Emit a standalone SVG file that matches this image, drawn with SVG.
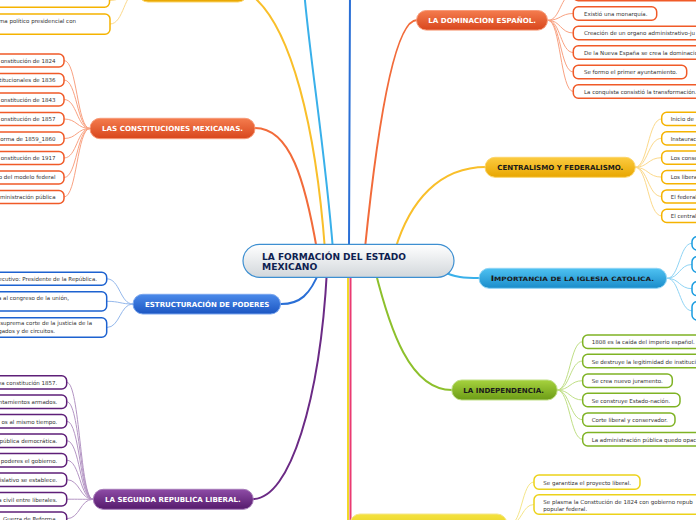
<svg xmlns="http://www.w3.org/2000/svg" width="696" height="520" viewBox="0 0 696 520">
<defs>
<linearGradient id="gRoot" x1="0" y1="0" x2="0" y2="1"><stop offset="0" stop-color="#ffffff"/><stop offset="1" stop-color="#d2d7db"/></linearGradient>
<linearGradient id="gOr" x1="0" y1="0" x2="0" y2="1"><stop offset="0" stop-color="#f47c4e"/><stop offset="1" stop-color="#d8461c"/></linearGradient>
<linearGradient id="gYe" x1="0" y1="0" x2="0" y2="1"><stop offset="0" stop-color="#fccb40"/><stop offset="1" stop-color="#e8a600"/></linearGradient>
<linearGradient id="gLb" x1="0" y1="0" x2="0" y2="1"><stop offset="0" stop-color="#4fc2f2"/><stop offset="1" stop-color="#1a8cca"/></linearGradient>
<linearGradient id="gBl" x1="0" y1="0" x2="0" y2="1"><stop offset="0" stop-color="#4b8aea"/><stop offset="1" stop-color="#1c56c2"/></linearGradient>
<linearGradient id="gGr" x1="0" y1="0" x2="0" y2="1"><stop offset="0" stop-color="#a6d23e"/><stop offset="1" stop-color="#6c9c16"/></linearGradient>
<linearGradient id="gPu" x1="0" y1="0" x2="0" y2="1"><stop offset="0" stop-color="#8e4ca6"/><stop offset="1" stop-color="#551a6c"/></linearGradient>
<linearGradient id="gYb" x1="0" y1="0" x2="0" y2="1"><stop offset="0" stop-color="#f4e240"/><stop offset="1" stop-color="#e0c812"/></linearGradient>
</defs>
<style>
.main{fill:none;stroke-width:2;stroke-linecap:round}
.sub{fill:none;stroke-width:1}
.box{fill:#ffffff;stroke-width:1.5}
.ct{font-family:"DejaVu Sans",Verdana,sans-serif;font-size:5.5px;fill:#333333}
.pt{font-family:"DejaVu Sans",Verdana,sans-serif;font-size:7px;font-weight:bold}
.w{fill:#ffffff}
.k{fill:#1a1a1a}
.or{stroke:#f05a28}
.ye{stroke:#f5b300}
.lb{stroke:#1a9ce0}
.bl{stroke:#1d62d0}
.gr{stroke:#7fb324}
.pu{stroke:#5e1f78}
.yb{stroke:#ecd21a}
.sor{stroke:#f9a282}
.sye{stroke:#fcd98a}
.slb{stroke:#8fd4f5}
.sbl{stroke:#94b8ec}
.sgr{stroke:#c0df86}
.spu{stroke:#b495c4}
.syb{stroke:#f5e68a}
</style>
<g id="connectors">
<path class="main" stroke="#f9bf2a" d="M325 250 C316 130 292 25 250 -6"/>
<path class="main" stroke="#39b0ea" d="M333 250 C325 150 310 60 304 -10"/>
<path class="main" stroke="#2a6fd6" d="M349 250 L350 -10"/>
<path class="main" stroke="#f26b3a" d="M365 248 C378 120 395 20 417 20"/>
<path class="main" stroke="#f9bf2a" d="M395 250 C410 200 440 167 486 167"/>
<path class="main" stroke="#39b0ea" d="M440 270 C455 278 465 278 480 278"/>
<path class="main" stroke="#8dc02c" d="M375 270 C390 330 410 390 452 390"/>
<path class="main" stroke="#f0d82a" d="M348 270 L348 530"/>
<path class="main" stroke="#ea3a72" d="M350.5 270 L350.5 530"/>
<path class="main" stroke="#6b2a85" d="M327 270 C320 400 290 499 253 499"/>
<path class="main" stroke="#2a6fd6" d="M320 270 C310 295 300 304 281 304"/>
<path class="main" stroke="#f26b3a" d="M317 250 C305 180 290 128 255 128"/>
<g class="sub sye">
<path d="M138 -9 C124 -9 124 0.5 110 0.5"/>
<path d="M138 -9 C124 -9 124 24 110 24"/>
</g>
<g class="sub sor">
<path d="M90 128.5 C77 128.5 77 60.5 64 60.5"/>
<path d="M90 128.5 C77 128.5 77 80 64 80"/>
<path d="M90 128.5 C77 128.5 77 99.5 64 99.5"/>
<path d="M90 128.5 C77 128.5 77 119 64 119"/>
<path d="M90 128.5 C77 128.5 77 138.5 64 138.5"/>
<path d="M90 128.5 C77 128.5 77 158 64 158"/>
<path d="M90 128.5 C77 128.5 77 177.5 64 177.5"/>
<path d="M90 128.5 C77 128.5 77 197 64 197"/>
</g>
<g class="sub sbl">
<path d="M133 304 C120 304 120 278.8 106.7 278.8"/>
<path d="M133 304 C120 304 120 301.3 106.7 301.3"/>
<path d="M133 304 C120 304 120 327.5 106.7 327.5"/>
</g>
<g class="sub spu">
<path d="M93 499.3 C80 499.3 80 382.3 66.7 382.3"/>
<path d="M93 499.3 C80 499.3 80 401.7 66.7 401.7"/>
<path d="M93 499.3 C80 499.3 80 421.2 66.7 421.2"/>
<path d="M93 499.3 C80 499.3 80 440.7 66.7 440.7"/>
<path d="M93 499.3 C80 499.3 80 460.2 66.7 460.2"/>
<path d="M93 499.3 C80 499.3 80 479.7 66.7 479.7"/>
<path d="M93 499.3 C80 499.3 80 499.2 66.7 499.2"/>
<path d="M93 499.3 C80 499.3 80 518.7 66.7 518.7"/>
</g>
<g class="sub sor">
<path d="M548 20.3 C560.5 20.3 560.5 -6 573.3 -6"/>
<path d="M548 20.3 C560.5 20.3 560.5 13.5 573.3 13.5"/>
<path d="M548 20.3 C560.5 20.3 560.5 33 573.3 33"/>
<path d="M548 20.3 C560.5 20.3 560.5 52.5 573.3 52.5"/>
<path d="M548 20.3 C560.5 20.3 560.5 72 573.3 72"/>
<path d="M548 20.3 C560.5 20.3 560.5 91.5 573.3 91.5"/>
</g>
<g class="sub sye">
<path d="M635 167.3 C648 167.3 648 118.9 661.7 118.9"/>
<path d="M635 167.3 C648 167.3 648 138.3 661.7 138.3"/>
<path d="M635 167.3 C648 167.3 648 157.7 661.7 157.7"/>
<path d="M635 167.3 C648 167.3 648 177.1 661.7 177.1"/>
<path d="M635 167.3 C648 167.3 648 196.5 661.7 196.5"/>
<path d="M635 167.3 C648 167.3 648 215.9 661.7 215.9"/>
</g>
<g class="sub slb">
<path d="M667 278.3 C679.5 278.3 679.5 243.3 692 243.3"/>
<path d="M667 278.3 C679.5 278.3 679.5 264.5 692 264.5"/>
<path d="M667 278.3 C679.5 278.3 679.5 288.7 692 288.7"/>
<path d="M667 278.3 C679.5 278.3 679.5 310.8 692 310.8"/>
</g>
<g class="sub sgr">
<path d="M557 390 C570 390 570 341.7 582.7 341.7"/>
<path d="M557 390 C570 390 570 361 582.7 361"/>
<path d="M557 390 C570 390 570 380.7 582.7 380.7"/>
<path d="M557 390 C570 390 570 400 582.7 400"/>
<path d="M557 390 C570 390 570 419.7 582.7 419.7"/>
<path d="M557 390 C570 390 570 439.3 582.7 439.3"/>
</g>
<g class="sub syb">
<path d="M510 524 C522 524 522 482 534 482"/>
<path d="M510 524 C522 524 522 504.5 534 504.5"/>
</g>
</g>

<g id="root">
<rect x="243" y="244.3" width="211" height="33" rx="16.5" fill="url(#gRoot)" stroke="#3d8fd1" stroke-width="1.2"/>
<text x="262" y="260" font-family="'DejaVu Sans',Verdana,sans-serif" font-size="9.2" font-weight="bold" fill="#0e2150" textLength="144" lengthAdjust="spacingAndGlyphs">LA FORMACIÓN DEL ESTADO</text>
<text x="262" y="270" font-family="'DejaVu Sans',Verdana,sans-serif" font-size="9.2" font-weight="bold" fill="#0e2150">MEXICANO</text>
</g>

<g id="n-topleft">
<rect x="138" y="-19" width="110" height="21" rx="10" fill="url(#gYe)" stroke="#fcd56a" stroke-width="1"/>
</g>
<g id="n-topleft-1"><rect class="box ye" x="-60" y="-6" width="169.5" height="13.3" rx="5"/></g>
<g id="n-topleft-2"><rect class="box ye" x="-60" y="14" width="170" height="20.3" rx="5"/><text class="ct" x="76" y="23.3" text-anchor="end">ma político presidencial con</text></g>

<g id="n-constituciones">
<rect x="90" y="118.3" width="165" height="20.4" rx="10" fill="url(#gOr)" stroke="#f79a78" stroke-width="1"/>
<text class="pt w" x="102" y="131.3" textLength="141" lengthAdjust="spacingAndGlyphs">LAS CONSTITUCIONES MEXICANAS.</text>
</g>
<g id="c-const-1"><rect class="box or" x="-40" y="54" width="104" height="13" rx="5"/><text class="ct" x="55.5" y="62.7" text-anchor="end">onstitución de 1824</text></g>
<g id="c-const-2"><rect class="box or" x="-40" y="73.5" width="104" height="13" rx="5"/><text class="ct" x="55.5" y="82" text-anchor="end">titucionales de 1836</text></g>
<g id="c-const-3"><rect class="box or" x="-40" y="93" width="104" height="13" rx="5"/><text class="ct" x="55.5" y="102" text-anchor="end">onstitución de 1843</text></g>
<g id="c-const-4"><rect class="box or" x="-40" y="112.5" width="104" height="13" rx="5"/><text class="ct" x="55.5" y="121.3" text-anchor="end">onstitución de 1857</text></g>
<g id="c-const-5"><rect class="box or" x="-40" y="132" width="104" height="13" rx="5"/><text class="ct" x="55.5" y="140.7" text-anchor="end">orma de 1859_1860</text></g>
<g id="c-const-6"><rect class="box or" x="-40" y="151.5" width="104" height="13" rx="5"/><text class="ct" x="55.5" y="159.7" text-anchor="end">onstitución de 1917</text></g>
<g id="c-const-7"><rect class="box or" x="-40" y="171" width="104" height="13" rx="5"/><text class="ct" x="55.5" y="179.3" text-anchor="end">o del modelo federal</text></g>
<g id="c-const-8"><rect class="box or" x="-40" y="190.5" width="104" height="13" rx="5"/><text class="ct" x="55.5" y="198.7" text-anchor="end">ministración pública</text></g>

<g id="n-estructuracion">
<rect x="133" y="294.3" width="147.5" height="19.7" rx="9.8" fill="url(#gBl)" stroke="#7aa6ee" stroke-width="1"/>
<text class="pt w" x="145" y="307" textLength="124.3" lengthAdjust="spacingAndGlyphs">ESTRUCTURACIÓN DE PODERES</text>
</g>
<g id="c-estr-1"><rect class="box bl" x="-40" y="272.3" width="146.7" height="13" rx="5"/><text class="ct" x="97" y="281" text-anchor="end">ecutivo: Presidente de la República.</text></g>
<g id="c-estr-2"><rect class="box bl" x="-40" y="291.7" width="146.7" height="19.3" rx="5"/><text class="ct" x="69" y="300.3" text-anchor="end">a al congreso de la unión,</text></g>
<g id="c-estr-3"><rect class="box bl" x="-40" y="317.7" width="146.7" height="19.6" rx="5"/><text class="ct" x="92" y="325.3" text-anchor="end">suprema corte de la justicia de la</text><text class="ct" x="55" y="333" text-anchor="end">gados y de circuitos.</text></g>

<g id="n-segunda">
<rect x="93.3" y="489.3" width="160" height="20" rx="10" fill="url(#gPu)" stroke="#a67ab8" stroke-width="1"/>
<text class="pt w" x="105" y="501.9" textLength="135.7" lengthAdjust="spacingAndGlyphs">LA SEGUNDA REPUBLICA LIBERAL.</text>
</g>
<g id="c-seg-1"><rect class="box pu" x="-40" y="375.7" width="106.7" height="13.3" rx="5"/><text class="ct" x="57.3" y="385.3" text-anchor="end">va constitución 1857.</text></g>
<g id="c-seg-2"><rect class="box pu" x="-40" y="395.1" width="106.7" height="13.3" rx="5"/><text class="ct" x="57.3" y="404.3" text-anchor="end">ntamientos armados.</text></g>
<g id="c-seg-3"><rect class="box pu" x="-40" y="414.6" width="106.7" height="13.3" rx="5"/><text class="ct" x="57.3" y="424" text-anchor="end">os al mismo tiempo.</text></g>
<g id="c-seg-4"><rect class="box pu" x="-40" y="434.1" width="106.7" height="13.3" rx="5"/><text class="ct" x="57.3" y="443" text-anchor="end">pública democrática.</text></g>
<g id="c-seg-5"><rect class="box pu" x="-40" y="453.6" width="106.7" height="13.3" rx="5"/><text class="ct" x="57.3" y="462.7" text-anchor="end">poderes el gobierno.</text></g>
<g id="c-seg-6"><rect class="box pu" x="-40" y="473.1" width="106.7" height="13.3" rx="5"/><text class="ct" x="57.3" y="482" text-anchor="end">islativo se establece.</text></g>
<g id="c-seg-7"><rect class="box pu" x="-40" y="492.6" width="106.7" height="13.3" rx="5"/><text class="ct" x="57.3" y="502" text-anchor="end">a civil entre liberales.</text></g>
<g id="c-seg-8"><rect class="box pu" x="-40" y="512.1" width="106.7" height="13.3" rx="5"/><text class="ct" x="57.3" y="521" text-anchor="end">Guerra de Reforma.</text></g>

<g id="n-dominacion">
<rect x="416.5" y="10.5" width="131" height="19.6" rx="9.8" fill="url(#gOr)" stroke="#f79a78" stroke-width="1"/>
<text class="pt w" x="428.3" y="23.2" textLength="107.7" lengthAdjust="spacingAndGlyphs">LA DOMINACION ESPAÑOL.</text>
</g>
<g id="c-dom-0"><rect class="box or" x="573.3" y="-12.8" width="160" height="13.5" rx="5"/></g>
<g id="c-dom-1"><rect class="box or" x="573.3" y="6.7" width="83.4" height="13.5" rx="5"/><text class="ct" x="584" y="16">Existió una monarquía.</text></g>
<g id="c-dom-2"><rect class="box or" x="573.3" y="26.2" width="160" height="13.5" rx="5"/><text class="ct" x="584" y="35.3">Creación de un organo administrativo-ju</text></g>
<g id="c-dom-3"><rect class="box or" x="573.3" y="45.7" width="160" height="13.5" rx="5"/><text class="ct" x="584" y="54.7">De la Nueva España se crea la dominació</text></g>
<g id="c-dom-4"><rect class="box or" x="573.3" y="65.2" width="113.4" height="13.5" rx="5"/><text class="ct" x="584" y="74.3">Se formo el primer ayuntamiento.</text></g>
<g id="c-dom-5"><rect class="box or" x="573.3" y="84.7" width="160" height="13.5" rx="5"/><text class="ct" x="584" y="93.7">La conquista consistió la transformación.</text></g>

<g id="n-centralismo">
<rect x="485" y="157.3" width="150.3" height="20" rx="10" fill="url(#gYe)" stroke="#fcd56a" stroke-width="1"/>
<text class="pt k" x="497.3" y="169.9" textLength="126" lengthAdjust="spacingAndGlyphs">CENTRALISMO Y FEDERALISMO.</text>
</g>
<g id="c-cen-1"><rect class="box ye" x="661.7" y="112.3" width="80" height="13.2" rx="5"/><text class="ct" x="670.7" y="121">Inicio de</text></g>
<g id="c-cen-2"><rect class="box ye" x="661.7" y="131.7" width="80" height="13.2" rx="5"/><text class="ct" x="670.7" y="140.6">Instaurac</text></g>
<g id="c-cen-3"><rect class="box ye" x="661.7" y="151.1" width="80" height="13.2" rx="5"/><text class="ct" x="670.7" y="159.8">Los conse</text></g>
<g id="c-cen-4"><rect class="box ye" x="661.7" y="170.5" width="80" height="13.2" rx="5"/><text class="ct" x="670.7" y="179.4">Los libera</text></g>
<g id="c-cen-5"><rect class="box ye" x="661.7" y="189.9" width="80" height="13.2" rx="5"/><text class="ct" x="670.7" y="198.8">El federal</text></g>
<g id="c-cen-6"><rect class="box ye" x="661.7" y="209.3" width="80" height="13.2" rx="5"/><text class="ct" x="670.7" y="218.2">El central</text></g>

<g id="n-iglesia">
<rect x="479" y="268.3" width="187.7" height="20" rx="10" fill="url(#gLb)" stroke="#8fd4f5" stroke-width="1"/>
<text class="pt k" x="490.7" y="281.2" textLength="163.3" lengthAdjust="spacingAndGlyphs"><tspan font-size="7.6">I</tspan><tspan font-size="6">MPORTANCIA DE LA IGLESIA CATOLICA.</tspan></text>
</g>
<g id="c-igl-1"><rect class="box lb" x="692" y="236.7" width="60" height="13.3" rx="5"/></g>
<g id="c-igl-2"><rect class="box lb" x="692" y="256.7" width="60" height="15.6" rx="5"/></g>
<g id="c-igl-3"><rect class="box lb" x="692" y="281.7" width="60" height="14" rx="5"/></g>
<g id="c-igl-4"><rect class="box lb" x="692" y="301.7" width="60" height="18.3" rx="5"/></g>

<g id="n-independencia">
<rect x="451.7" y="380" width="105.6" height="20" rx="10" fill="url(#gGr)" stroke="#c0df86" stroke-width="1"/>
<text class="pt k" x="463.3" y="392.8" textLength="80.7" lengthAdjust="spacingAndGlyphs">LA INDEPENDENCIA.</text>
</g>
<g id="c-ind-1"><rect class="box gr" x="582.7" y="335" width="125" height="13.4" rx="5"/><text class="ct" x="591.7" y="343.7">1808 es la caída del imperio español.</text></g>
<g id="c-ind-2"><rect class="box gr" x="582.7" y="354.3" width="125" height="13.4" rx="5"/><text class="ct" x="591.7" y="363.5">Se destruye la legitimidad de instituci</text></g>
<g id="c-ind-3"><rect class="box gr" x="582.7" y="374" width="89.6" height="13.4" rx="5"/><text class="ct" x="591.7" y="383">Se crea nuevo juramento.</text></g>
<g id="c-ind-4"><rect class="box gr" x="582.7" y="393.3" width="97.3" height="13.4" rx="5"/><text class="ct" x="591.7" y="402.6">Se construye Estado-nación.</text></g>
<g id="c-ind-5"><rect class="box gr" x="582.7" y="412.9" width="92.3" height="13.4" rx="5"/><text class="ct" x="591.7" y="422">Corte liberal y conservador.</text></g>
<g id="c-ind-6"><rect class="box gr" x="582.7" y="432.6" width="125" height="13.4" rx="5"/><text class="ct" x="591.7" y="441.8">La administración pública quedo opac</text></g>

<g id="n-bottom">
<rect x="350" y="514" width="157" height="22" rx="10" fill="url(#gYb)" stroke="#f5e68a" stroke-width="1"/>
</g>
<g id="c-bot-1"><rect class="box yb" x="534" y="475" width="106" height="14.3" rx="5"/><text class="ct" x="543.3" y="485.2">Se garantiza el proyecto liberal.</text></g>
<g id="c-bot-2"><rect class="box yb" x="534" y="494.7" width="180" height="19.6" rx="5"/><text class="ct" x="543.3" y="504.3">Se plasma la Consttución de 1824 con gobierno repub</text><text class="ct" x="543.3" y="511">popular federal.</text></g>
</svg>
